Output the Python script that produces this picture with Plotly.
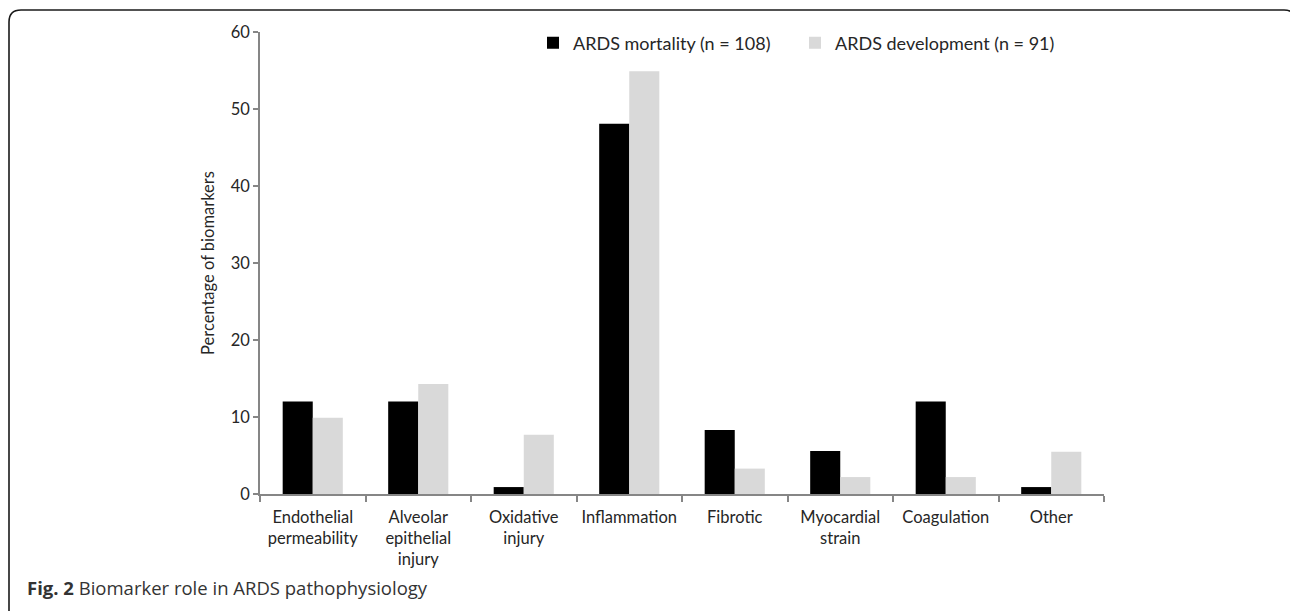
import plotly.graph_objects as go

categories = ["Endothelial<br>permeability", "Alveolar<br>epithelial<br>injury", "Oxidative<br>injury",
              "Inflammation", "Fibrotic", "Myocardial<br>strain", "Coagulation", "Other"]
mortality = [12.0, 12.0, 0.9, 48.1, 8.3, 5.6, 12.0, 0.9]
development = [9.9, 14.3, 7.7, 54.9, 3.3, 2.2, 2.2, 5.5]
series_names = ["ARDS mortality (n = 108)", "ARDS development (n = 91)"]
y_ticks = [0, 10, 20, 30, 40, 50, 60]

W, H = 1290, 611
L, R, T, B = 260, 1104, 32, 494

def px(x):
    return (x - L) / (R - L)

def py(y):
    return (B - y) / (B - T)

FONT = "Lato"
TXT = "#262626"

fig = go.Figure()
fig.add_trace(go.Bar(x=categories, y=mortality, name=series_names[0], marker_color="#000000",
                     marker_line_width=0))
fig.add_trace(go.Bar(x=categories, y=development, name=series_names[1], marker_color="#d9d9d9",
                     marker_line_width=0))

# rounded frame around the figure
path = (f"M {px(9)},{py(700)} L {px(9)},{py(22)} Q {px(9)},{py(10)} {px(21)},{py(10)} "
        f"L {px(1284)},{py(10)} Q {px(1296)},{py(10)} {px(1296)},{py(22)} L {px(1296)},{py(700)}")
fig.add_shape(type="path", path=path, xref="paper", yref="paper",
              line=dict(color="#1a1a1a", width=1.6), layer="above")

fig.add_annotation(x=px(25), y=py(587), xref="paper", yref="paper", xanchor="left", yanchor="middle",
                   text="<b>Fig. 2</b> Biomarker role in ARDS pathophysiology", showarrow=False,
                   font=dict(family="Open Sans", size=18.5, color="#333333"))

fig.update_layout(
    width=W, height=H,
    margin=dict(l=L, r=W - R, t=T, b=H - B),
    paper_bgcolor="white", plot_bgcolor="white",
    barmode="group", bargap=0.43, bargroupgap=0,
    font=dict(family=FONT, size=16.5, color=TXT),
    legend=dict(orientation="h", x=px(533), y=py(43), xanchor="left", yanchor="middle",
                font=dict(family=FONT, size=18, color=TXT), bgcolor="rgba(0,0,0,0)",
                itemwidth=30, entrywidth=217, entrywidthmode="pixels", traceorder="normal"),
    showlegend=True,
)
fig.update_xaxes(showline=True, linecolor="#868686", linewidth=1.5, ticks="outside", tickson="boundaries",
                 ticklen=6, tickcolor="#868686", tickwidth=1.5, showgrid=False, ticklabelstandoff=7,
                 tickfont=dict(family=FONT, size=16.5, color=TXT), tickangle=0)
fig.update_yaxes(range=[0, 60], tickvals=y_ticks, showline=True, linecolor="#868686", linewidth=1.5,
                 ticks="outside", ticklen=5, tickcolor="#868686", tickwidth=1.5, showgrid=False,
                 zeroline=False, tickfont=dict(family=FONT, size=16.5, color=TXT),
                 title=dict(text="Percentage of biomarkers", font=dict(family=FONT, size=16.5, color=TXT),
                            standoff=12))

fig.write_html("out.html", config={"displayModeBar": False},
               post_script="document.body.style.margin='0';document.body.style.overflow='hidden';")
